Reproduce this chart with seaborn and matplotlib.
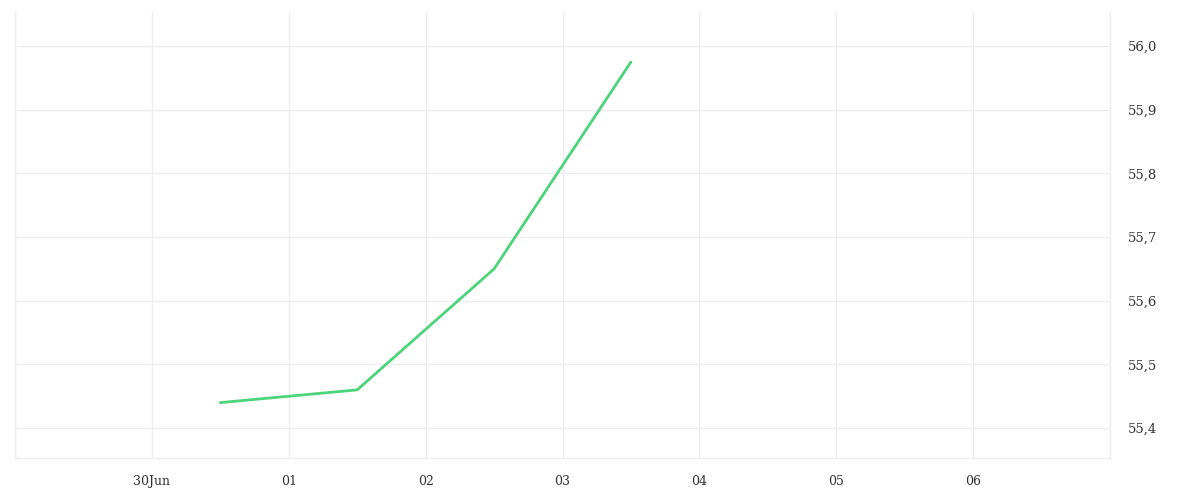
import pandas as pd
import seaborn as sns
import matplotlib.pyplot as plt
from matplotlib.ticker import FuncFormatter

# data (one value per day, at midday)
dates = ['2023-06-30 12:00', '2023-07-01 12:00', '2023-07-02 12:00', '2023-07-03 12:00']
values = [55.44, 55.46, 55.65, 55.975]
tick_days = ['2023-06-29', '2023-06-30', '2023-07-01', '2023-07-02', '2023-07-03',
             '2023-07-04', '2023-07-05', '2023-07-06', '2023-07-07']
tick_labels = ['', '30Jun', '01', '02', '03', '04', '05', '06', '']
y_ticks = [55.4, 55.5, 55.6, 55.7, 55.8, 55.9, 56.0]

df = pd.DataFrame({'date': pd.to_datetime(dates), 'value': values})

sns.set_style('white')
plt.rcParams['font.family'] = ['DejaVu Serif', 'DejaVu Sans']

grid = '#eeeeee'
fig = plt.figure(figsize=(12, 5), dpi=100)
ax = fig.add_axes([0.0125, 0.084, 0.9125, 0.892])

sns.lineplot(data=df, x='date', y='value', ax=ax, color='#4cd47a', linewidth=2.0)

ax.set_xlim(pd.Timestamp('2023-06-29'), pd.Timestamp('2023-07-07'))
ax.set_ylim(55.353, 56.0535)
ax.set_xticks(pd.to_datetime(tick_days))
ax.set_xticklabels(tick_labels)
ax.set_yticks(y_ticks)
ax.yaxis.set_major_formatter(FuncFormatter(lambda v, p: f'{v:.1f}'.replace('.', ',')))
ax.yaxis.tick_right()

ax.grid(True, color=grid, linewidth=1)
ax.tick_params(axis='x', length=7, color=grid, width=1, pad=5, labelsize=9, labelcolor='#333333')
ax.tick_params(axis='y', length=0, pad=13, labelsize=9.5, labelcolor='#333333')
ax.set_xlabel('')
ax.set_ylabel('')

for side in ['left', 'right', 'bottom']:
    ax.spines[side].set_color(grid)
    ax.spines[side].set_linewidth(1)
ax.spines['top'].set_visible(False)

fig.savefig('out.png', dpi=100)
